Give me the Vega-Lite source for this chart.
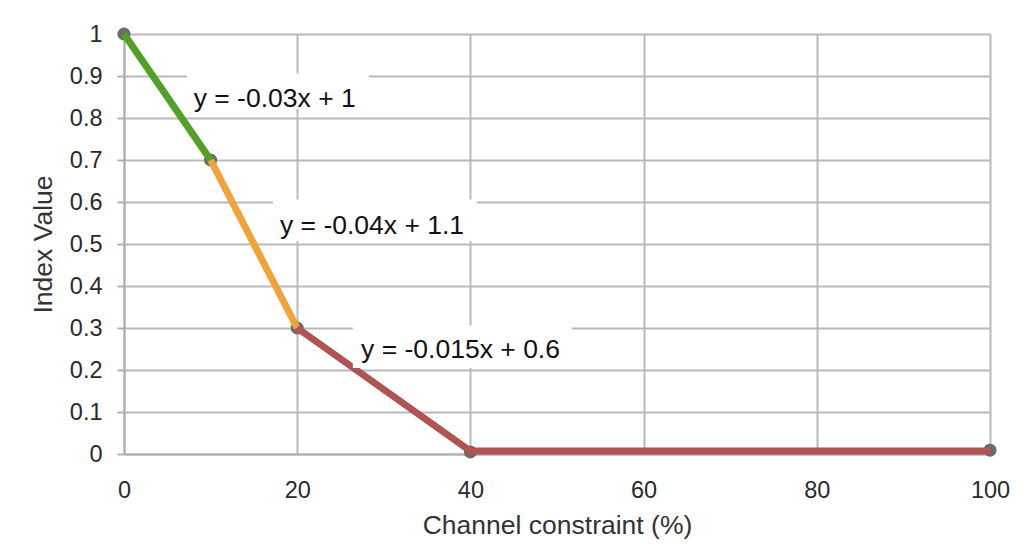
{
  "$schema": "https://vega.github.io/schema/vega-lite/v6.json",
  "width": 866,
  "height": 420,
  "autosize": {"type": "none"},
  "padding": {"left": 124, "top": 34, "right": 34, "bottom": 91},
  "background": "white",
  "config": {
    "view": {"stroke": null},
    "font": "Liberation Sans",
    "axis": {
      "gridColor": "#b9b9b9",
      "gridWidth": 2,
      "domainColor": "#b0b0b0",
      "domainWidth": 2,
      "tickColor": "#b0b0b0",
      "tickWidth": 2,
      "labelFont": "Liberation Sans",
      "labelFontSize": 23.5,
      "labelColor": "#2a2a2a",
      "titleFont": "Liberation Sans",
      "titleFontSize": 26.5,
      "titleFontWeight": "normal",
      "titleColor": "#333333"
    }
  },
  "datasets": {
    "line": [
      {"x": 0, "y": 1, "seg": "g"},
      {"x": 10, "y": 0.7, "seg": "g"},
      {"x": 10, "y": 0.7, "seg": "o"},
      {"x": 20, "y": 0.3, "seg": "o"},
      {"x": 20, "y": 0.3, "seg": "r"},
      {"x": 40, "y": 0.007, "seg": "r"},
      {"x": 100, "y": 0.007, "seg": "r"}
    ],
    "pts": [
      {"x": 0, "y": 1},
      {"x": 10, "y": 0.7},
      {"x": 20, "y": 0.3},
      {"x": 40, "y": 0.005},
      {"x": 100, "y": 0.009}
    ],
    "labels": [
      {"text": "y = -0.03x + 1", "x": 17.4, "y": 0.827, "x0": 7.27, "x1": 28.27, "y0": 0.822, "y1": 0.906},
      {"text": "y = -0.04x + 1.1", "x": 28.64, "y": 0.525, "x0": 17.2, "x1": 40.74, "y0": 0.507, "y1": 0.606},
      {"text": "y = -0.015x + 0.6", "x": 38.86, "y": 0.2295, "x0": 26.43, "x1": 51.7, "y0": 0.205, "y1": 0.306}
    ]
  },
  "layer": [
    {
      "data": {"name": "pts"},
      "mark": {"type": "point", "filled": true, "shape": "circle", "size": 170, "color": "#6b6b6b", "opacity": 1},
      "encoding": {
        "x": {
          "field": "x", "type": "quantitative",
          "scale": {"domain": [0, 100], "nice": false},
          "axis": {
            "values": [0, 20, 40, 60, 80, 100],
            "ticks": false,
            "tickSize": 0,
            "labelFlush": false,
            "labelPadding": 24,
            "title": "Channel constraint (%)",
            "titleY": 71,
            "titleBaseline": "middle"
          }
        },
        "y": {
          "field": "y", "type": "quantitative",
          "scale": {"domain": [0, 1], "nice": false},
          "axis": {
            "values": [0, 0.1, 0.2, 0.3, 0.4, 0.5, 0.6, 0.7, 0.8, 0.9, 1],
            "format": "~g",
            "tickSize": 7,
            "labelPadding": 15,
            "labelFlush": false,
            "title": "Index Value",
            "titleX": -81,
            "titleBaseline": "middle"
          }
        }
      }
    },
    {
      "data": {"name": "line"},
      "mark": {"type": "line", "strokeWidth": 7, "strokeCap": "butt"},
      "encoding": {
        "x": {"field": "x", "type": "quantitative"},
        "y": {"field": "y", "type": "quantitative"},
        "detail": {"field": "seg"},
        "color": {
          "field": "seg", "type": "nominal",
          "scale": {"domain": ["g", "o", "r"], "range": ["#52a025", "#f0a33a", "#b05353"]},
          "legend": null
        }
      }
    },
    {
      "data": {"name": "labels"},
      "mark": {"type": "rect", "color": "white", "opacity": 1},
      "encoding": {
        "x": {"field": "x0", "type": "quantitative"},
        "x2": {"field": "x1"},
        "y": {"field": "y0", "type": "quantitative"},
        "y2": {"field": "y1"}
      }
    },
    {
      "data": {"name": "labels"},
      "mark": {"type": "text", "fontSize": 26.5, "font": "Liberation Sans", "color": "#111111", "align": "center", "baseline": "alphabetic"},
      "encoding": {
        "x": {"field": "x", "type": "quantitative"},
        "y": {"field": "y", "type": "quantitative"},
        "text": {"field": "text"}
      }
    }
  ]
}
